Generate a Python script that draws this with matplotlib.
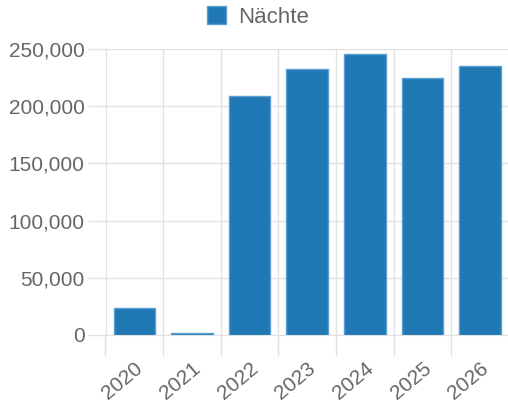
import matplotlib
matplotlib.use("Agg")
import matplotlib.pyplot as plt
from matplotlib.ticker import FuncFormatter, FixedLocator

plt.rcParams['font.family'] = ['Liberation Sans', 'DejaVu Sans']

years = ["2020", "2021", "2022", "2023", "2024", "2025", "2026"]
naechte = [23500, 1500, 209200, 232300, 245900, 224700, 234900]
series_label = "Nächte"
yticks = [0, 50000, 100000, 150000, 200000, 250000]

W, H = 508, 405
fig = plt.figure(figsize=(W / 100, H / 100), dpi=100)
left, right, top, bottom = 105.5, 509.0, 49.0, 335.0
ax = fig.add_axes([left / W, (H - bottom) / H, (right - left) / W, (bottom - top) / H])

grid_c = '#e1e1e1'
text_c = '#666666'
x = list(range(len(years)))
bars = ax.bar(x, naechte, width=0.72, color='#1f77b4', edgecolor='#5b9fd2',
              linewidth=1.0, label=series_label, zorder=3)

ax.set_xlim(-0.5, len(years) - 0.5)
ax.set_ylim(0, 250000)

ax.set_yticks(yticks)
ax.yaxis.set_major_formatter(FuncFormatter(lambda v, p: f"{int(v):,}"))
ax.set_xticks(x)
ax.set_xticklabels(years, rotation=40, ha='right', rotation_mode='anchor')
ax.xaxis.set_minor_locator(FixedLocator([i - 0.5 for i in range(len(years) + 1)]))

ax.tick_params(axis='x', which='major', length=0, pad=17, labelsize=15, labelcolor=text_c)
ax.tick_params(axis='x', which='minor', length=15, width=1, color=grid_c)
ax.tick_params(axis='y', which='major', length=13, width=1, color=grid_c,
               labelsize=15, labelcolor=text_c, pad=2)

ax.grid(True, which='minor', axis='x', color=grid_c, linewidth=1, zorder=0)
ax.grid(True, which='major', axis='y', color=grid_c, linewidth=1, zorder=0)

for s in ['top', 'right']:
    ax.spines[s].set_visible(False)
ax.spines['left'].set_color(grid_c)
ax.spines['bottom'].set_color(grid_c)

fig.legend(handles=[bars], labels=[series_label], loc='center',
           bbox_to_anchor=(258 / W, 1 - 17 / H), frameon=False,
           fontsize=16, labelcolor=text_c, handlelength=0.85, handleheight=0.85,
           handletextpad=0.55)

fig.savefig("out.png", dpi=100)
